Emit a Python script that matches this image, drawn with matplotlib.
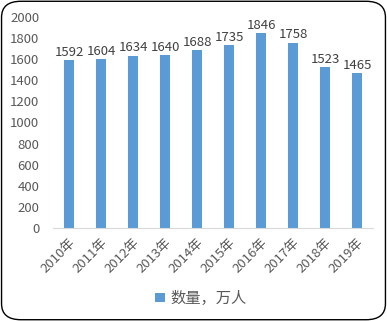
import matplotlib
matplotlib.use("Agg")
import matplotlib.pyplot as plt
from matplotlib.patches import FancyBboxPatch

plt.rcParams['font.family'] = ['Noto Sans CJK SC', 'DejaVu Sans']

# ── DATA ─────────────────────────────────────────────
years  = ["2010年", "2011年", "2012年", "2013年", "2014年",
          "2015年", "2016年", "2017年", "2018年", "2019年"]
values = [1592, 1604, 1634, 1640, 1688, 1735, 1846, 1758, 1523, 1465]
series_name = "数量，万人"
yticks = [0, 200, 400, 600, 800, 1000, 1200, 1400, 1600, 1800, 2000]

BAR   = "#5B9BD5"
TEXT  = "#595959"

fig = plt.figure(figsize=(3.87, 3.21), dpi=100)
fig.patches.append(FancyBboxPatch((0.004, 0.004), 0.992, 0.992,
                                  boxstyle="round,pad=0,rounding_size=0.05",
                                  transform=fig.transFigure, fill=False,
                                  edgecolor="black", lw=1.0))

ax = fig.add_axes([0.137, 0.290, 0.827, 0.657])
x = range(len(years))
bars = ax.bar(x, values, width=0.31, color=BAR, label=series_name)
for b, v in zip(bars, values):
    ax.text(b.get_x() + b.get_width() / 2, v + 12, str(v),
            ha="center", va="bottom", fontsize=9.5, color="#404040")

ax.set_xlim(-0.5, len(years) - 0.5)
ax.set_ylim(0, 2000)
ax.set_yticks(yticks)
ax.set_yticklabels([str(t) for t in yticks], fontsize=9.5, color=TEXT)
ax.set_xticks(list(x))
ax.set_xticklabels(years, rotation=45, ha="right", rotation_mode="anchor",
                   fontsize=9.5, color=TEXT)
ax.tick_params(length=0)
ax.tick_params(axis="y", pad=10)
ax.tick_params(axis="x", pad=6)
for s in ["top", "right", "left"]:
    ax.spines[s].set_visible(False)
ax.spines["bottom"].set_color("#D9D9D9")

fig.legend(handles=[bars], labels=[series_name], loc="center",
           bbox_to_anchor=(0.52, 0.07), frameon=False, fontsize=11,
           handlelength=0.6, handleheight=0.6, handletextpad=0.4,
           labelcolor=TEXT)

fig.savefig("out.png", dpi=100)
